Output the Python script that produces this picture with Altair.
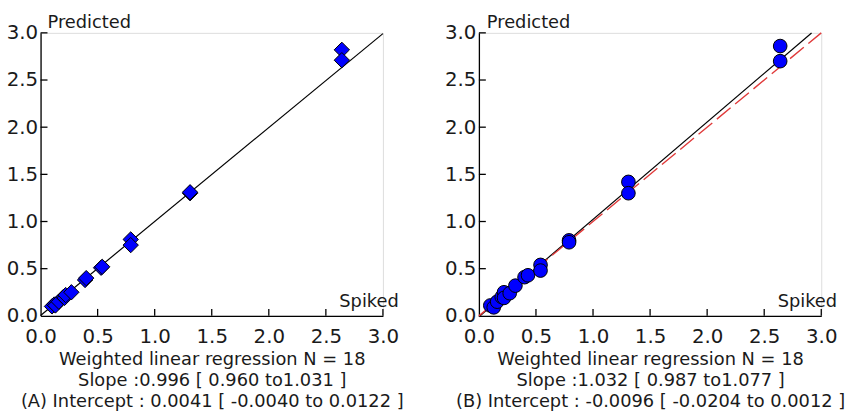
import altair as alt
import pandas as pd

# Panel A data (diamonds)
a_spiked = [0.10, 0.12, 0.13, 0.16, 0.20, 0.21, 0.22, 0.27, 0.39, 0.40, 0.53, 0.54, 0.79, 0.79, 1.31, 1.31, 2.64, 2.64]
a_pred = [0.10, 0.12, 0.11, 0.15, 0.20, 0.19, 0.22, 0.25, 0.38, 0.40, 0.51, 0.52, 0.81, 0.75, 1.30, 1.31, 2.82, 2.71]

# Panel B data (circles)
b_spiked = [0.10, 0.13, 0.16, 0.20, 0.22, 0.22, 0.27, 0.32, 0.40, 0.43, 0.54, 0.54, 0.79, 0.79, 1.31, 1.31, 2.64, 2.64]
b_pred = [0.11, 0.09, 0.15, 0.20, 0.25, 0.19, 0.24, 0.32, 0.41, 0.43, 0.54, 0.48, 0.80, 0.78, 1.42, 1.30, 2.86, 2.70]

a_slope, a_intercept = 0.996, 0.0041
b_slope, b_intercept = 1.032, -0.0096
a_line_x = [0.0, 3.0]
b_line_x = [0.0, 2.915]
identity_x = [0.0, 3.0]

tick_values = [0.5, 1.0, 1.5, 2.0, 2.5, 3.0]
label_values = [0.0, 0.5, 1.0, 1.5, 2.0, 2.5, 3.0]

a_title = ["Weighted linear regression N = 18",
           "Slope :0.996 [ 0.960 to1.031 ]",
           "(A) Intercept : 0.0041 [ -0.0040 to 0.0122 ]"]
b_title = ["Weighted linear regression N = 18",
           "Slope :1.032 [ 0.987 to1.077 ]",
           "(B) Intercept : -0.0096 [ -0.0204 to 0.0012 ]"]

FONT = "DejaVu Sans"
FS = 18
LFS = 20
TXT = "#1a1a1a"
W, H = 346, 286
TICK = 7


def panel(xs, ys, shape, size, slope, intercept, line_x, identity, title, dx_pred, dx_spk):
    sx = alt.Scale(domain=[0, 3], nice=False, zero=False)
    sy = alt.Scale(domain=[0, 3], nice=False, zero=False)
    xaxis = alt.Axis(values=label_values, format=".1f", ticks=False, grid=False,
                     domainColor="black", domainWidth=1.3, labelFont=FONT, labelFontSize=LFS,
                     labelColor=TXT, labelPadding=11, labelFlush=False, labelOverlap=False,
                     title=title, titleFont=FONT, titleFontSize=FS, titleFontWeight="normal",
                     titleColor=TXT, titleLineHeight=21.5, titlePadding=4)
    yaxis = alt.Axis(values=label_values, format=".1f", ticks=False, grid=False,
                     domainColor="black", domainWidth=1.3, labelFont=FONT, labelFontSize=LFS,
                     labelColor=TXT, labelPadding=3, labelFlush=False, labelOverlap=False,
                     title=None)
    df = pd.DataFrame({"x": xs, "y": ys})
    ldf = pd.DataFrame({"x": line_x, "y": [slope * v + intercept for v in line_x]})

    pts = alt.Chart(df).mark_point(shape=shape, filled=True, fill="#0000ff", stroke="black",
                                   strokeWidth=1, size=size, opacity=1).encode(
        x=alt.X("x:Q", scale=sx, axis=xaxis),
        y=alt.Y("y:Q", scale=sy, axis=yaxis))
    reg = alt.Chart(ldf).mark_line(color="black", strokeWidth=1.2).encode(
        x=alt.X("x:Q", scale=sx), y=alt.Y("y:Q", scale=sy))
    tdf = pd.DataFrame({"v": tick_values})
    xt = alt.Chart(tdf).mark_rule(color="black", strokeWidth=1.3).encode(
        x=alt.X("v:Q", scale=sx), y=alt.value(H), y2=alt.value(H - TICK))
    yt = alt.Chart(tdf).mark_rule(color="black", strokeWidth=1.3).encode(
        y=alt.Y("v:Q", scale=sy), x=alt.value(0), x2=alt.value(TICK))
    pred = alt.Chart(pd.DataFrame({"x": [0.0], "y": [3.0], "t": ["Predicted"]})).mark_text(
        align="left", baseline="alphabetic", dx=dx_pred, dy=-5, font=FONT, fontSize=FS,
        color=TXT).encode(x=alt.X("x:Q", scale=sx), y=alt.Y("y:Q", scale=sy), text="t:N")
    spk = alt.Chart(pd.DataFrame({"x": [3.0], "y": [0.0], "t": ["Spiked"]})).mark_text(
        align="right", baseline="alphabetic", dx=dx_spk, dy=-9, font=FONT, fontSize=FS,
        color=TXT).encode(x=alt.X("x:Q", scale=sx), y=alt.Y("y:Q", scale=sy), text="t:N")
    layers = [reg]
    if identity:
        idf = pd.DataFrame({"x": identity_x, "y": identity_x})
        layers.append(alt.Chart(idf).mark_line(color="#e03a3a", strokeWidth=1.4,
                                               strokeDash=[18, 6]).encode(
            x=alt.X("x:Q", scale=sx), y=alt.Y("y:Q", scale=sy)))
    layers += [xt, yt, pts, pred, spk]
    return alt.layer(*layers).properties(width=W, height=H)


pa = panel(a_spiked, a_pred, "diamond", 240, a_slope, a_intercept, a_line_x, False, a_title, 7, 16)
pb = panel(b_spiked, b_pred, "circle", 190, b_slope, b_intercept, b_line_x, True, b_title, 8, 16)

chart = alt.hconcat(pa, pb, spacing=39).properties(
    padding={"left": 5, "top": 11, "right": 0, "bottom": 0}
).configure_view(stroke=None).configure(background="white")

chart.save("out.html", embed_options={"renderer": "svg", "actions": False})
